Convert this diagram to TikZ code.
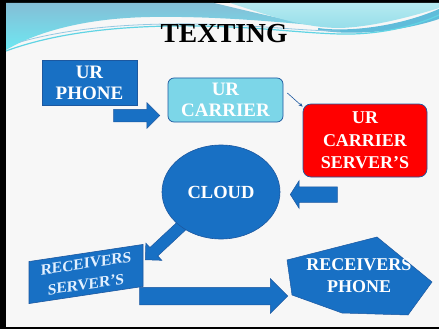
\documentclass[tikz,border=0pt]{standalone}
\usepackage{fontspec}
\setmainfont{Liberation Serif}
\usetikzlibrary{shapes.arrows,shapes.geometric,arrows.meta}

\definecolor{slidebg}{RGB}{247,247,247}
\definecolor{boxblue}{RGB}{24,112,196}
\definecolor{boxedge}{RGB}{28,88,160}
\definecolor{carrierfill}{RGB}{124,214,232}
\definecolor{serverred}{RGB}{255,0,0}
\definecolor{waveblue}{RGB}{132,190,214}
\definecolor{wavecyan}{RGB}{110,232,242}
\definecolor{wavelight}{RGB}{150,222,234}
\definecolor{wavepale}{RGB}{182,234,240}
\definecolor{waveteal}{RGB}{96,188,218}
\definecolor{waveline}{RGB}{96,212,228}
\definecolor{wavelineb}{RGB}{150,200,226}
\definecolor{paletext}{RGB}{226,240,255}

\tikzset{
  boxtext/.style={text=white, font=\bfseries\fontsize{19}{21}\selectfont,
    align=center, inner sep=0pt},
  bluebox/.style={boxtext, rectangle, fill=boxblue, draw=boxedge, line width=0.6pt},
  % shaft thickness = 2 x inner ysep, length = minimum height
  blockarrow/.style={single arrow, fill=boxblue, draw=boxedge, line width=0.5pt,
    inner xsep=0pt, single arrow head indent=0pt},
  thinlink/.style={draw=boxedge, line width=0.6pt, -{Stealth[length=4pt,width=3.5pt]}},
}

\begin{document}
\begin{tikzpicture}[x=1pt,y=-1pt]
\useasboundingbox (0,0) rectangle (439,329);
% slide with its dark frame
\fill[black] (0,0) rectangle (439,329);
\fill[slidebg] (6,3) rectangle (439,327);

% header waves
\shade[top color=waveblue, bottom color=wavecyan]
  (6,3) -- (214,3) .. controls (248,11) and (288,21) .. (322,26)
  .. controls (270,21) and (210,16) .. (150,17)
  .. controls (90,18) and (40,30) .. (6,50) -- cycle;
\shade[top color=wavepale, bottom color=wavelight]
  (230,3) -- (439,3) -- (439,8) .. controls (410,17) and (372,27) .. (340,28)
  .. controls (305,28) and (270,16) .. (230,3) -- cycle;
\fill[waveteal]
  (318,28) .. controls (345,32) and (395,28) .. (439,9) -- (439,19)
  .. controls (400,32) and (350,36) .. (318,30) -- cycle;
\draw[waveline, line width=1.2pt]
  (6,51) .. controls (60,31) and (130,25) .. (200,26)
  .. controls (260,27) and (300,33) .. (340,34)
  .. controls (380,35) and (415,26) .. (439,15);
\draw[wavelineb, line width=0.8pt]
  (20,42) .. controls (70,28) and (130,23) .. (200,24)
  .. controls (260,25) and (300,31) .. (340,31);

% title
\node[font=\bfseries\fontsize{27.5}{30}\selectfont, anchor=base, inner sep=0pt]
  (title) at (224,43) {TEXTING};

% boxes
\node[bluebox, minimum width=95pt, minimum height=45pt] (phone) at (89.5,82.5) {UR\\PHONE};
\node[boxtext, rounded corners=6pt, fill=carrierfill, draw=boxedge, line width=0.7pt,
  minimum width=115pt, minimum height=44pt] (carrier) at (225.5,100) {UR\\CARRIER};
\node[boxtext, font=\bfseries\fontsize{18}{22.5}\selectfont, rounded corners=8pt,
  fill=serverred, draw=boxedge, line width=0.7pt,
  minimum width=124pt, minimum height=73pt] (server) at (365,140.5) {UR\\CARRIER\\SERVER’S};

% block arrows
\node[blockarrow, inner ysep=6pt, minimum height=46pt,
  single arrow head extend=6.5pt, anchor=tip] (a1) at (160,115.5) {};
\node[blockarrow, inner ysep=7.5pt, minimum height=47pt, rotate=180,
  single arrow head extend=6pt, single arrow tip angle=115, anchor=tip] (a2) at (290,194.5) {};
\node[blockarrow, inner ysep=5.5pt, minimum height=62pt, rotate=223,
  single arrow head extend=6pt, anchor=tip] (a3) at (145,260) {};
\node[blockarrow, inner ysep=8.5pt, minimum height=148pt,
  single arrow head extend=8.5pt, anchor=tip] (a4) at (288,296) {};

% cloud
\node[boxtext, font=\bfseries\fontsize{18.5}{21}\selectfont, ellipse, fill=boxblue,
  draw=boxedge, line width=0.6pt, minimum width=118pt, minimum height=94pt]
  (cloud) at (221,192) {CLOUD};

% thin link between carrier and its server
\draw[thinlink] ([shift={(4pt,7pt)}]carrier.east) -- ([yshift=-3pt]server.north west);

% slanted receivers' server box
\begin{scope}[shift={(86,274)}, yslant=0.15, transform shape]
\node[bluebox, text=paletext, font=\bfseries\fontsize{15.5}{21}\selectfont,
  minimum width=114pt, minimum height=42pt] (rserver) at (0,0) {RECEIVERS\\SERVER’S};
\end{scope}

% receivers' phone
\fill[boxblue, draw=boxedge, line width=0.5pt]
  (287,260) -- (377,237) -- (432,282) -- (408,315) -- (342,313) -- (292,295) -- cycle;
\node[boxtext, font=\bfseries\fontsize{18}{22}\selectfont] (rphone) at (359,276) {RECEIVERS\\PHONE};
\end{tikzpicture}
\end{document}
